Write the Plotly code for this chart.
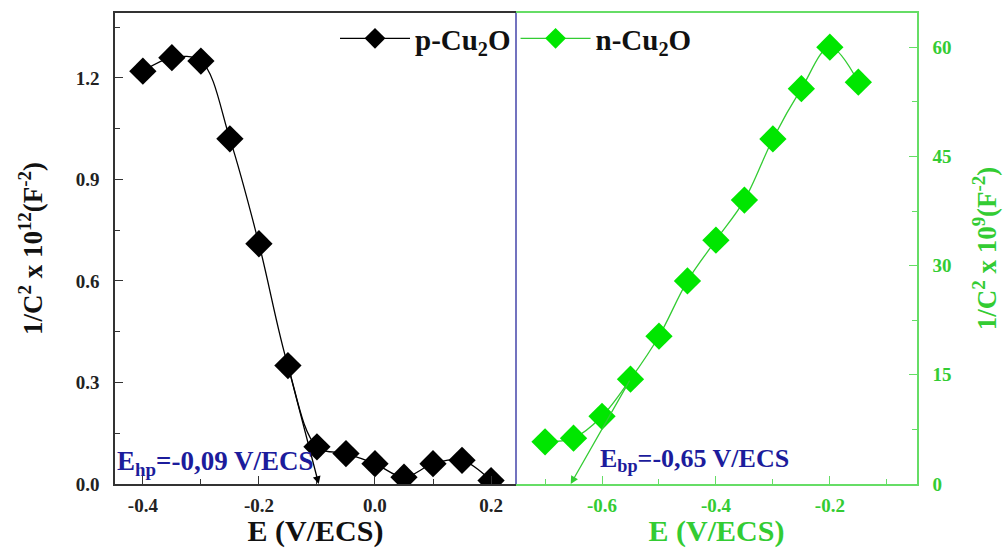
import plotly.graph_objects as go

# p-Cu2O (left panel)
p_E = [-0.40, -0.35, -0.30, -0.25, -0.20, -0.15, -0.10, -0.05, 0.00, 0.05, 0.10, 0.15, 0.20]
p_invC2 = [1.22, 1.26, 1.25, 1.02, 0.71, 0.35, 0.11, 0.09, 0.06, 0.02, 0.06, 0.07, 0.01]
p_tangent_E = [-0.15, -0.097]
p_tangent_y = [0.35, 0.0]

# n-Cu2O (right panel)
n_E = [-0.70, -0.65, -0.60, -0.55, -0.50, -0.45, -0.40, -0.35, -0.30, -0.25, -0.20, -0.15]
n_invC2 = [5.8, 6.3, 9.3, 14.4, 20.3, 27.9, 33.5, 39.0, 47.4, 54.3, 60.0, 55.2]
n_tangent_E = [-0.55, -0.655]
n_tangent_y = [14.4, 0.0]

GREEN = "#00e600"
GREEN_TXT = "#33cc33"
GREEN_AX = "#66dd66"
BLUE = "#1c1c9c"
FONT = "Liberation Serif"

fig = go.Figure()
fig.add_trace(go.Scatter(
    x=p_E, y=p_invC2, mode="lines+markers", name="<b>p-Cu<sub>2</sub>O</b>",
    line=dict(color="black", width=1.3, shape="spline", smoothing=1.0),
    marker=dict(symbol="diamond", size=21, color="black"),
    xaxis="x", yaxis="y"))
fig.add_trace(go.Scatter(
    x=n_E, y=n_invC2, mode="lines+markers", name="<b>n-Cu<sub>2</sub>O</b>",
    line=dict(color=GREEN_TXT, width=1.3, shape="spline", smoothing=1.0),
    marker=dict(symbol="diamond", size=21, color=GREEN),
    xaxis="x2", yaxis="y2"))

# tangent lines with arrows
fig.add_annotation(x=p_tangent_E[1], y=p_tangent_y[1], ax=p_tangent_E[0], ay=p_tangent_y[0],
                   xref="x", yref="y", axref="x", ayref="y", text="", showarrow=True,
                   arrowhead=2, arrowsize=1.2, arrowwidth=1.3, arrowcolor="black")
fig.add_annotation(x=n_tangent_E[1], y=n_tangent_y[1], ax=n_tangent_E[0], ay=n_tangent_y[0],
                   xref="x2", yref="y2", axref="x2", ayref="y2", text="", showarrow=True,
                   arrowhead=2, arrowsize=1.2, arrowwidth=1.3, arrowcolor=GREEN_TXT)

fig.add_annotation(x=-0.448, y=0.0, xref="x", yref="y", xanchor="left", yanchor="bottom",
                   yshift=2, showarrow=False,
                   text="<b>E<sub>hp</sub>=-0,09 V/ECS</b>",
                   font=dict(family=FONT, size=27, color=BLUE))
fig.add_annotation(x=-0.607, y=0.0, xref="x2", yref="y2", xanchor="left", yanchor="bottom",
                   yshift=6, showarrow=False,
                   text="<b>E<sub>bp</sub>=-0,65 V/ECS</b>",
                   font=dict(family=FONT, size=26, color=BLUE))

# blue separator
fig.add_shape(type="line", xref="paper", yref="paper", x0=0.5, x1=0.5, y0=0, y1=1,
              line=dict(color="#4444aa", width=1.5))

tickfont_b = dict(family=FONT, size=19, color="#222222")
tickfont_g = dict(family=FONT, size=19, color=GREEN_TXT)

fig.update_layout(
    width=1006, height=548,
    margin=dict(l=115, r=89, t=13, b=64, autoexpand=False),
    paper_bgcolor="white", plot_bgcolor="white",
    font=dict(family=FONT),
    showlegend=True,
    legend=dict(orientation="h", x=0.5, xanchor="center", y=1.0, yanchor="top",
                bgcolor="rgba(0,0,0,0)", itemwidth=70, tracegroupgap=0,
                font=dict(family=FONT, size=29, color="#111111")),
    xaxis=dict(domain=[0, 0.5], range=[-0.448, 0.243], anchor="y", automargin=False,
               tickvals=[-0.4, -0.2, 0.0, 0.2], ticktext=["<b>-0.4</b>", "<b>-0.2</b>", "<b>0.0</b>", "<b>0.2</b>"],
               ticks="inside", ticklen=8, tickcolor="#333", tickwidth=1.2,
               minor=dict(tickvals=[-0.3, -0.1, 0.1], ticks="inside", ticklen=5, tickcolor="#333"),
               showline=True, linecolor="#333333", linewidth=1.5, mirror=True,
               showgrid=False, zeroline=False, tickfont=tickfont_b, ticklabelstandoff=3,
               title=dict(text="<b>E (V/ECS)</b>", font=dict(family=FONT, size=30, color="#111"), standoff=2)),
    yaxis=dict(range=[0, 1.392], anchor="x", automargin=False,
               tickvals=[0.0, 0.3, 0.6, 0.9, 1.2], ticktext=["<b>0.0</b>", "<b>0.3</b>", "<b>0.6</b>", "<b>0.9</b>", "<b>1.2</b>"],
               ticks="inside", ticklen=8, tickcolor="#333", tickwidth=1.2,
               minor=dict(tickvals=[0.15, 0.45, 0.75, 1.05, 1.35], ticks="inside", ticklen=5, tickcolor="#333"),
               showline=True, linecolor="#333333", linewidth=1.5,
               showgrid=False, zeroline=False, tickfont=tickfont_b, ticklabelstandoff=10,
               title=dict(text="<b>1/C<sup>2</sup> x 10<sup>12</sup>(F<sup>-2</sup>)</b>",
                          font=dict(family=FONT, size=27, color="#111"), standoff=25)),
    xaxis2=dict(domain=[0.5, 1.0], range=[-0.751, -0.047], anchor="y2", automargin=False,
                tickvals=[-0.6, -0.4, -0.2], ticktext=["<b>-0.6</b>", "<b>-0.4</b>", "<b>-0.2</b>"],
                ticks="inside", ticklen=8, tickcolor=GREEN_AX, tickwidth=1.2,
                minor=dict(tickvals=[-0.7, -0.5, -0.3, -0.1], ticks="inside", ticklen=5, tickcolor=GREEN_AX),
                showline=True, linecolor=GREEN_AX, linewidth=1.5, mirror=True,
                showgrid=False, zeroline=False, tickfont=tickfont_g, ticklabelstandoff=3,
                title=dict(text="<b>E (V/ECS)</b>", font=dict(family=FONT, size=30, color=GREEN_TXT), standoff=2)),
    yaxis2=dict(range=[0, 64.7], anchor="x2", side="right", automargin=False,
                tickvals=[0, 15, 30, 45, 60], ticktext=["<b>0</b>", "<b>15</b>", "<b>30</b>", "<b>45</b>", "<b>60</b>"],
                ticks="inside", ticklen=8, tickcolor=GREEN_AX, tickwidth=1.2,
                minor=dict(tickvals=[7.5, 22.5, 37.5, 52.5], ticks="inside", ticklen=5, tickcolor=GREEN_AX),
                showline=True, linecolor=GREEN_AX, linewidth=1.5,
                showgrid=False, zeroline=False, tickfont=tickfont_g, ticklabelstandoff=10,
                title=dict(text="<b>1/C<sup>2</sup> x 10<sup>9</sup>(F<sup>-2</sup>)</b>",
                           font=dict(family=FONT, size=27, color=GREEN_TXT), standoff=27)),
)

fig.write_html("out.html", config={"displayModeBar": False},
               post_script="document.body.style.margin='0';")
